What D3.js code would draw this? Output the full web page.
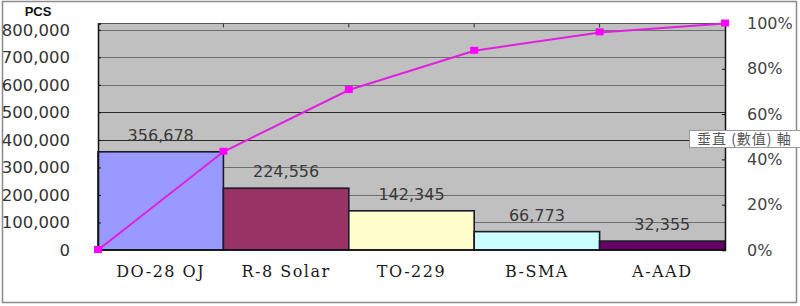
<!DOCTYPE html>
<html><head><meta charset="utf-8">
<script src="https://cdn.jsdelivr.net/npm/d3@7"></script>
<style>
html,body{margin:0;padding:0;background:#fff;}
svg{display:block;}
</style></head>
<body>
<svg id="c" width="800" height="306"></svg>
<script>
const categories = ["DO-28 OJ", "R-8 Solar", "TO-229", "B-SMA", "A-AAD"];
const values = [356678, 224556, 142345, 66773, 32355];
const barColors = ["#9999ff", "#993366", "#ffffcc", "#ccffff", "#660066"];
const leftTicks = [0, 100000, 200000, 300000, 400000, 500000, 600000, 700000, 800000];
const rightTicks = [0, 0.2, 0.4, 0.6, 0.8, 1.0];
const unitLabel = "PCS";
const tooltipText = "垂直 (數值) 軸";

const total = d3.sum(values);
const cum = [0, ...d3.cumsum(values)].map(v => v / total);

const svg = d3.select("#c");
const L = 98, R = 725, T = 23.5, B = 250;

const x = d3.scaleBand().domain(categories).range([L, R]).padding(0);
const y = d3.scaleLinear().domain([0, total]).range([B, T]);
const y2 = d3.scaleLinear().domain([0, 1]).range([B, T]);

// outer frame
svg.append("rect").attr("x", 2.5).attr("y", 1.5).attr("width", 794).attr("height", 301)
  .attr("fill", "#fff").attr("stroke", "#8a8a8a").attr("stroke-width", 1.5);

// plot background
svg.append("rect").attr("x", L).attr("y", T).attr("width", R - L).attr("height", B - T)
  .attr("fill", "#c0c0c0");

// gridlines
svg.append("g").selectAll("line").data(leftTicks.filter(d => d > 0)).join("line")
  .attr("x1", L).attr("x2", R)
  .attr("y1", d => Math.round(y(d)) + 0.5).attr("y2", d => Math.round(y(d)) + 0.5)
  .attr("stroke", d => (d === 400000 || d === 500000) ? "#2a2a2a" : "#6e6e6e")
  .attr("stroke-width", 1.2);

// top border with ticks
svg.append("line").attr("x1", L).attr("x2", R).attr("y1", T).attr("y2", T)
  .attr("stroke", "#555").attr("stroke-width", 1.2);
svg.append("g").selectAll("line").data(categories.slice(1)).join("line")
  .attr("x1", d => x(d)).attr("x2", d => x(d)).attr("y1", T).attr("y2", T + 4)
  .attr("stroke", "#333");

// bars
svg.append("g").selectAll("rect").data(values).join("rect")
  .attr("x", (d, i) => x(categories[i]))
  .attr("y", d => y(d))
  .attr("width", x.bandwidth())
  .attr("height", d => B - y(d))
  .attr("fill", (d, i) => barColors[i])
  .attr("stroke", "#1a1a2a").attr("stroke-width", 1.6);

// value labels
svg.append("g").selectAll("text").data(values).join("text")
  .attr("x", (d, i) => x(categories[i]) + x.bandwidth() / 2)
  .attr("y", d => y(d) - 11)
  .attr("text-anchor", "middle")
  .attr("font-family", "DejaVu Sans").attr("font-size", 16)
  .attr("fill", "#3a3a3a")
  .text(d => d3.format(",")(d));

// left axis
const la = svg.append("g").attr("transform", `translate(${L},0)`)
  .call(d3.axisLeft(y).tickValues(leftTicks).tickSize(-3).tickPadding(28).tickFormat(d3.format(",")));
la.select(".domain").attr("stroke", "#111").attr("stroke-width", 1.5);
la.selectAll(".tick line").attr("stroke", "#111");
la.selectAll(".tick text").attr("font-family", "DejaVu Sans").attr("font-size", 16.5).attr("fill", "#333");

// right axis
const ra = svg.append("g").attr("transform", `translate(${R},0)`)
  .call(d3.axisRight(y2).tickValues(rightTicks).tickSize(-3).tickPadding(22).tickFormat(d3.format(".0%")));
ra.select(".domain").attr("stroke", "#111").attr("stroke-width", 1.5);
ra.selectAll(".tick line").attr("stroke", "#111");
ra.selectAll(".tick text").attr("font-family", "DejaVu Sans").attr("font-size", 16).attr("fill", "#444");

// x-axis baseline
svg.append("line").attr("x1", L).attr("x2", R).attr("y1", B).attr("y2", B)
  .attr("stroke", "#111").attr("stroke-width", 1.5);

// category labels
svg.append("g").selectAll("text").data(categories).join("text")
  .attr("x", d => x(d) + x.bandwidth() / 2)
  .attr("y", 277)
  .attr("text-anchor", "middle")
  .attr("font-family", "DejaVu Serif").attr("font-size", 16)
  .attr("letter-spacing", 1.5)
  .attr("fill", "#1a1a1a")
  .attr("xml:space", "preserve")
  .style("white-space", "pre")
  .text(d => d);

// cumulative line
const pts = cum.map((c, i) => [i === 0 ? x(categories[0]) : x(categories[i - 1]) + x.bandwidth(), y2(c)]);
svg.append("path").datum(pts)
  .attr("d", d3.line())
  .attr("fill", "none").attr("stroke", "#e020e0").attr("stroke-width", 2);
svg.append("g").selectAll("rect").data(pts).join("rect")
  .attr("x", d => d[0] - 4).attr("y", d => d[1] - 4)
  .attr("width", 8).attr("height", 7)
  .attr("fill", "#ff00ff");

// unit label
svg.append("text").attr("x", 38).attr("y", 16).attr("text-anchor", "middle")
  .attr("font-family", "Liberation Sans").attr("font-weight", "bold").attr("font-size", 13)
  .attr("fill", "#111").text(unitLabel);

// tooltip box
svg.append("rect").attr("x", 689.5).attr("y", 130.5).attr("width", 115).attr("height", 17)
  .attr("fill", "#fff").attr("stroke", "#999");
svg.append("text").attr("x", 697).attr("y", 144)
  .attr("font-family", "Noto Sans CJK TC").attr("font-size", 14).attr("letter-spacing", 1)
  .attr("fill", "#555")
  .attr("xml:space", "preserve").style("white-space", "pre")
  .text(tooltipText);
</script>
</body></html>
